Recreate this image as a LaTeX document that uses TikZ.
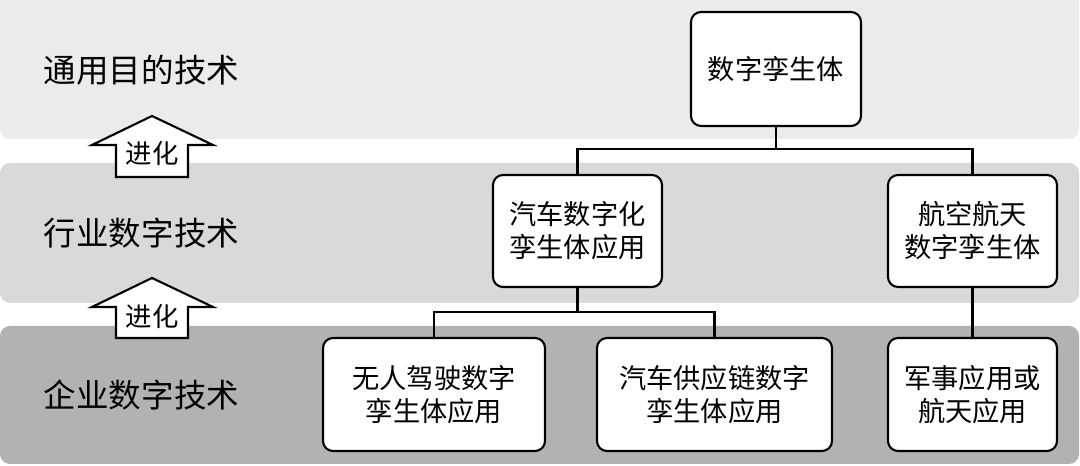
\documentclass[tikz,border=0pt]{standalone}
\usepackage{fontspec}
\setmainfont{Noto Sans CJK SC}
\usetikzlibrary{positioning}

\begin{document}
\begin{tikzpicture}[
      band/.style={rounded corners=0.1cm},
      box/.style={
        draw,
        fill=white,
        rounded corners=0.1cm,
        line width=0.6pt,
        align=center,
        inner sep=0pt,
        font=\fontsize{7.75pt}{9.4pt}\selectfont
      },
      lab/.style={font=\fontsize{9.25pt}{11pt}\selectfont},
      evo/.style={draw,fill=white,line width=0.6pt,line join=miter},
      link/.style={line width=0.6pt}
    ]
    \useasboundingbox (0,0) rectangle (10.80,4.66);
    \clip (0,0) rectangle (10.80,4.66);

    \fill[band,black!8] (0,3.27) rectangle (10.79,4.80);
    \fill[band,black!15] (0,1.63) rectangle (10.79,3.03);
    \fill[band,black!30] (0,0.02) rectangle (10.79,1.40);

    \node[lab] (l1) at (1.415,3.96) {通用目的技术};
    \node[lab] (l2) at (1.415,2.33) {行业数字技术};
    \node[lab] (l3) at (1.415,0.71) {企业数字技术};

    \draw[evo] (1.52,3.50) -- (2.13,3.21) -- (1.88,3.21) -- (1.88,2.89)
      -- (1.16,2.89) -- (1.16,3.21) -- (0.92,3.21) -- cycle;
    \node[font=\fontsize{7.5pt}{9pt}\selectfont] (e1) at (1.52,3.12) {进化};
    \draw[evo] (1.52,1.88) -- (2.13,1.59) -- (1.88,1.59) -- (1.88,1.28)
      -- (1.16,1.28) -- (1.16,1.59) -- (0.92,1.59) -- cycle;
    \node[font=\fontsize{7.5pt}{9pt}\selectfont] (e2) at (1.52,1.50) {进化};

    \node[box,minimum width=1.70cm,minimum height=1.14cm] (top) at (7.76,3.97) {数字孪生体};
    \node[box,minimum width=1.69cm,minimum height=1.12cm] (car) at (5.775,2.35) {汽车数字化\\孪生体应用};
    \node[box,minimum width=1.69cm,minimum height=1.12cm] (aero) at (9.725,2.35) {航空航天\\数字孪生体};
    \node[box,minimum width=2.22cm,minimum height=1.13cm] (drone) at (4.34,0.715) {无人驾驶数字\\孪生体应用};
    \node[box,minimum width=2.35cm,minimum height=1.13cm] (supply) at (7.145,0.715) {汽车供应链数字\\孪生体应用};
    \node[box,minimum width=1.69cm,minimum height=1.13cm] (mil) at (9.725,0.715) {军事应用或\\航天应用};

    \coordinate (s1) at (7.76,3.17);
    \coordinate (s2) at (5.775,1.54);
    \draw[link] (top.south) -- (s1);
    \draw[link] (car.north) |- (s1) -| (aero.north);
    \draw[link] (car.south) -- (s2);
    \draw[link] (drone.north) |- (s2) -| (supply.north);
    \draw[link] (aero.south) -- (mil.north);
  \end{tikzpicture}
\end{document}
